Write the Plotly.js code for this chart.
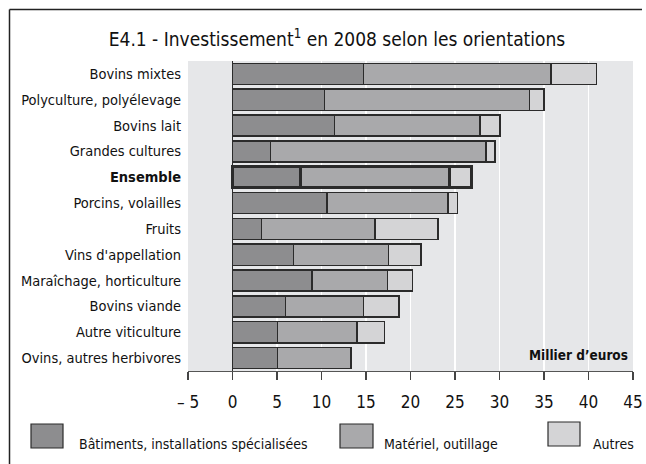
<!DOCTYPE html>
<html>
<head>
<meta charset="utf-8">
<script src="https://cdn.plot.ly/plotly-3.0.1.min.js"></script>
<style>
  html, body { margin: 0; padding: 0; background: #ffffff; }
  #chart { width: 646px; height: 464px; }
</style>
</head>
<body>
<div id="chart"></div>
<script>
// ---- Data (thousand euros) ----
const categories = [
  "Bovins mixtes",
  "Polyculture, polyélevage",
  "Bovins lait",
  "Grandes cultures",
  "Ensemble",
  "Porcins, volailles",
  "Fruits",
  "Vins d'appellation",
  "Maraîchage, horticulture",
  "Bovins viande",
  "Autre viticulture",
  "Ovins, autres herbivores"
];
const batiments = [14.75, 10.35, 11.45, 4.25, 7.6, 10.6, 3.25, 6.85, 8.95, 5.95, 5.05, 5.05];
const materiel  = [21.05, 23.05, 16.35, 24.25, 16.8, 13.6, 12.75, 10.65, 8.45, 8.75, 8.95, 8.2];
const autres    = [5.1, 1.6, 2.25, 1.0, 2.4, 1.1, 7.1, 3.7, 2.8, 4.0, 3.1, 0.1];
const seriesNames = ["Bâtiments, installations spécialisées", "Matériel, outillage", "Autres"];
const tickValues = [-5, 0, 5, 10, 15, 20, 25, 30, 35, 40, 45];
const tickLabels = ["– 5", "0", "5", "10", "15", "20", "25", "30", "35", "40", "45"];
const highlight = "Ensemble";

// ---- Styling ----
const FONT = "'DejaVu Sans Condensed', 'DejaVu Sans', sans-serif";
const colors = ["#8d8d8f", "#a9a9ab", "#d4d4d6"];
const lineWidths = categories.map(c => c === highlight ? 3 : 1.4);
const tickTextY = categories.map(c => c === highlight ? "<b>" + c + "</b>" : c);

const allSeries = [batiments, materiel, autres];
const traces = allSeries.map((vals, i) => ({
  type: "bar",
  orientation: "h",
  y: categories,
  x: vals,
  name: seriesNames[i],
  marker: { color: colors[i], line: { color: "#2b2b2b", width: lineWidths } },
  hoverinfo: "x+y+name",
  showlegend: false
}));

// Plot area in pixels: x 188..633, y 61..371
const L = 188, R = 633, T = 61, B = 371, W = 646, H = 464;
const px = v => (v - L) / (R - L);
const py = v => (B - v) / (B - T);

const shapes = [];
const annotations = [];

// frame (top and left lines)
shapes.push({ type: "line", xref: "paper", yref: "paper", x0: px(9.5), x1: px(642), y0: py(9.5), y1: py(9.5), line: { color: "#222", width: 1.5 } });
shapes.push({ type: "line", xref: "paper", yref: "paper", x0: px(9.5), x1: px(9.5), y0: py(9.5), y1: py(470), line: { color: "#222", width: 1.5 } });

// custom legend
const legendSwatches = [[31, 63, 424, 448], [340, 373, 424, 448], [548, 580, 422, 446]];
const legendTextX = [77, 382, 591];
seriesNames.forEach((n, i) => {
  const s = legendSwatches[i];
  shapes.push({ type: "rect", xref: "paper", yref: "paper", x0: px(s[0]), x1: px(s[1]), y0: py(s[3]), y1: py(s[2]),
    fillcolor: colors[i], line: { color: "#2b2b2b", width: 1.2 } });
  annotations.push({ xref: "paper", yref: "paper", x: px(legendTextX[i]), y: py(444), xanchor: "left", yanchor: "middle",
    text: n, showarrow: false, font: { family: FONT, size: 14, color: "#111" } });
});

annotations.push({ xref: "paper", yref: "paper", x: px(630), y: py(355), xanchor: "right", yanchor: "middle",
  text: "Millier d’euros", showarrow: false, font: { family: FONT, size: 13.5, color: "#111", weight: 700 } });

const layout = {
  width: W, height: H,
  margin: { l: L, r: W - R, t: T, b: H - B, pad: 0 },
  paper_bgcolor: "#ffffff",
  plot_bgcolor: "#e6e7e9",
  barmode: "stack",
  bargap: 0.18,
  showlegend: false,
  title: {
    text: "E4.1 - Investissement<sup>1</sup> en 2008 selon les orientations",
    x: 337 / W, xanchor: "center", xref: "container",
    y: 1 - 39 / H, yanchor: "middle", yref: "container",
    font: { family: FONT, size: 19, color: "#111" }
  },
  xaxis: {
    range: [-5, 45],
    tickvals: tickValues, ticktext: tickLabels,
    showgrid: true, gridcolor: "#ffffff", gridwidth: 1.5,
    zeroline: true, zerolinecolor: "#2b2b2b", zerolinewidth: 1.5,
    showline: true, linecolor: "#555", linewidth: 1.2,
    ticks: "outside", ticklen: 8, tickwidth: 1.2, tickcolor: "#444",
    ticklabelstandoff: 7,
    tickfont: { family: FONT, size: 17, color: "#111" },
    fixedrange: true
  },
  yaxis: {
    type: "category",
    range: [11.5, -0.5],
    tickvals: categories, ticktext: tickTextY,
    showgrid: false, zeroline: false, showline: false, ticks: "",
    ticklabelstandoff: 6,
    tickfont: { family: FONT, size: 14.5, color: "#111" },
    fixedrange: true
  },
  shapes: shapes,
  annotations: annotations
};

Plotly.newPlot("chart", traces, layout, { displayModeBar: false, staticPlot: true });
</script>
</body>
</html>
